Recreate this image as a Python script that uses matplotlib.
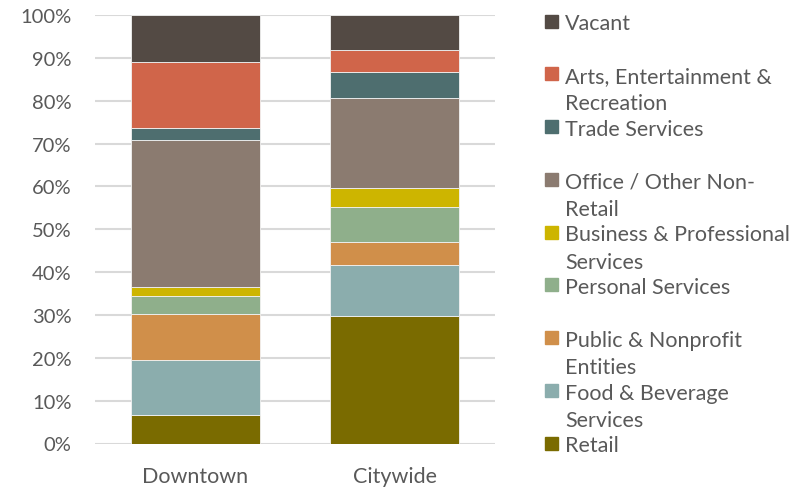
import matplotlib
matplotlib.use("Agg")
from matplotlib import pyplot as plt
from matplotlib.patches import Rectangle
import numpy as np

# ---- Data ----
areas = ["Downtown", "Citywide"]

# bottom to top
categories = [
  "Retail",
  "Food & Beverage\nServices",
  "Public & Nonprofit\nEntities",
  "Personal Services",
  "Business & Professional\nServices",
  "Office / Other Non-\nRetail",
  "Trade Services",
  "Arts, Entertainment &\nRecreation",
  "Vacant",
]

downtown = [6.7, 12.9, 10.7, 4.1, 2.2, 34.3, 2.7, 15.5, 10.9]
citywide = [29.8, 11.9, 5.3, 8.1, 4.5, 21.0, 6.0, 5.2, 8.2]

colors = ["#7a6b00", "#8badad", "#d08f4a", "#8faf8b", "#cdb500",
          "#8b7b70", "#4e6e6f", "#d0654a", "#534a44"]

text_color = "#595959"
grid_color = "#d9d9d9"

plt.rcParams["font.family"] = ["Lato", "DejaVu Sans"]

W, H = 812, 489
fig = plt.figure(figsize=(W / 100, H / 100), dpi=100)
ax = fig.add_axes([95 / W, 1 - 444.5 / H, 400 / W, 428.5 / H])

values = np.array([downtown, citywide]).T  # shape (n_cat, n_area)
x = np.arange(len(areas))
bottom = np.zeros(len(areas))
for i, cat in enumerate(categories):
  ax.bar(x, values[i], 0.645, bottom=bottom, color=colors[i],
         edgecolor="#f2f2f2", linewidth=0.6, zorder=3)
  bottom += values[i]

ax.set_xlim(-0.5, 1.5)
ax.set_ylim(0, 100)
ax.set_yticks(np.arange(0, 101, 10))
ax.set_yticklabels(["{:d}%".format(v) for v in range(0, 101, 10)])
ax.set_xticks(x)
ax.set_xticklabels(areas)
ax.yaxis.grid(True, color=grid_color, linewidth=1.5, zorder=0)
ax.set_axisbelow(True)
for s in ax.spines.values():
  s.set_visible(False)
ax.tick_params(axis="y", length=0, pad=17, labelsize=14.5, labelcolor=text_color)
ax.tick_params(axis="x", length=0, pad=16, labelsize=15.5, labelcolor=text_color)

# Legend, Excel style: fixed slots, top entry = last category
slot = 52.75
fs = 15.5
for j, cat in enumerate(categories[::-1]):
  ypx = 22 + j * slot
  fig.patches.append(Rectangle((545 / W, 1 - (ypx + 6.5) / H), 13 / W, 13 / H,
                               transform=fig.transFigure, color=colors[len(categories) - 1 - j]))
  fig.text(565 / W, 1 - (ypx - 7.5) / H, cat, ha="left", va="top",
           fontsize=fs, color=text_color, linespacing=1.45)

fig.savefig("out.png", dpi=100)
